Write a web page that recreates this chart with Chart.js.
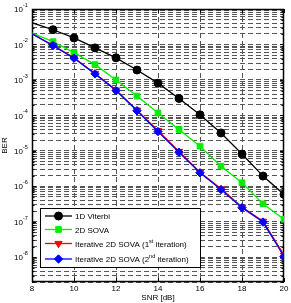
<!DOCTYPE html>
<html>
<head>
<meta charset="utf-8">
<script src="https://cdn.jsdelivr.net/npm/chart.js@4.4.1/dist/chart.umd.min.js"></script>
<style>
  body { margin: 0; background: #fff; }
  canvas { display: block; }
</style>
</head>
<body>
<canvas id="c" width="291" height="303"></canvas>
<script>
// SNR in dB
const snr = [8, 9, 10, 11, 12, 13, 14, 15, 16, 17, 18, 19, 20];
// BER values
const viterbi1d = [4.1e-2, 2.6e-2, 1.53e-2, 8.0e-3, 4.2e-3, 1.9e-3, 8.1e-4, 3.0e-4, 1.04e-4, 3.2e-5, 8.1e-6, 1.94e-6, 5.9e-7];
const sova2d = [2.1e-2, 1.2e-2, 5.9e-3, 2.7e-3, 1.0e-3, 3.5e-4, 1.17e-4, 4.0e-5, 1.35e-5, 3.7e-6, 1.26e-6, 3.2e-7, 1.17e-7];
const iterSova1 = [2.0e-2, 9.5e-3, 4.2e-3, 1.52e-3, 5.2e-4, 1.4e-4, 3.7e-5, 9.6e-6, 2.5e-6, 8.5e-7, 2.6e-7, 1.03e-7, 1.15e-8];
const iterSova2 = [2.0e-2, 9.3e-3, 4.1e-3, 1.48e-3, 5.0e-4, 1.35e-4, 3.5e-5, 9.1e-6, 2.4e-6, 8.1e-7, 2.5e-7, 9.8e-8, 1.05e-8];
const xTicks = [8, 10, 12, 14, 16, 18, 20];
const yDecades = [-1, -2, -3, -4, -5, -6, -7, -8];

const FONT = 'Liberation Sans, Arial, sans-serif';

function pts(arr) {
  return snr.map((x, i) => ({ x: x, y: arr[i] }));
}
// no marker on the first point (it sits on the left edge)
const radius = (r) => (ctx) => ctx.dataIndex === 0 ? 0 : r;

const series = [
  { label: '1D Viterbi', data: viterbi1d, color: '#000000', style: 'circle', r: 4, rot: 0, order: 3 },
  { label: '2D SOVA', data: sova2d, color: '#00ee00', style: 'rect', r: 4, rot: 0, order: 2 },
  { label: 'Iterative 2D SOVA (1', sup: 'st', tail: ' iteration)', data: iterSova1, color: '#ff0000', style: 'triangle', r: 4.2, rot: 180, order: 1 },
  { label: 'Iterative 2D SOVA (2', sup: 'nd', tail: ' iteration)', data: iterSova2, color: '#0000ff', style: 'rectRot', r: 4.2, rot: 0, order: 0 }
];

const datasets = series.map(s => ({
  label: s.label,
  data: pts(s.data),
  borderColor: s.color,
  backgroundColor: s.color,
  borderWidth: 1.3,
  pointStyle: s.style,
  pointRotation: s.rot,
  pointRadius: radius(s.r),
  pointBorderWidth: 1,
  order: s.order,
  tension: 0
}));

const framePlugin = {
  id: 'frame',
  beforeDatasetsDraw(chart) {
    const { ctx, chartArea: a, scales } = chart;
    ctx.save();
    ctx.strokeStyle = '#000';
    ctx.lineWidth = 1.5;
    ctx.strokeRect(a.left + 0.5, a.top + 0.5, a.right - a.left - 1, a.bottom - a.top - 1);
    // inner tick marks, MATLAB style
    ctx.lineWidth = 1;
    ctx.beginPath();
    scales.y.ticks.forEach(t => {
      const y = Math.round(scales.y.getPixelForValue(t.value)) + 0.5;
      const major = Math.abs(Math.log10(t.value) - Math.round(Math.log10(t.value))) < 1e-6;
      const len = major ? 4 : 2.5;
      ctx.moveTo(a.left, y); ctx.lineTo(a.left + len, y);
      ctx.moveTo(a.right, y); ctx.lineTo(a.right - len, y);
    });
    xTicks.forEach(v => {
      const x = Math.round(scales.x.getPixelForValue(v)) + 0.5;
      ctx.moveTo(x, a.bottom); ctx.lineTo(x, a.bottom - 4);
      ctx.moveTo(x, a.top); ctx.lineTo(x, a.top + 4);
    });
    ctx.stroke();
    ctx.restore();
  },
  afterDraw(chart) {
    const { ctx, chartArea: a, scales } = chart;
    ctx.save();
    ctx.fillStyle = '#000';
    // y tick labels with superscript exponents
    yDecades.forEach(k => {
      const y = scales.y.getPixelForValue(Math.pow(10, k));
      ctx.font = '8px ' + FONT;
      ctx.textAlign = 'right';
      ctx.textBaseline = 'middle';
      ctx.fillText('10', 23, y + 1);
      ctx.font = '5.5px ' + FONT;
      ctx.textAlign = 'left';
      ctx.fillText(String(k), 23, y - 3.5);
    });
    // y axis title
    ctx.font = '8px ' + FONT;
    ctx.textAlign = 'center';
    ctx.textBaseline = 'middle';
    ctx.translate(5, (a.top + a.bottom) / 2);
    ctx.rotate(-Math.PI / 2);
    ctx.fillText('BER', 0, 0);
    ctx.restore();

    // legend
    ctx.save();
    const lx = 40, ly = 208, lw = 160, lh = 59;
    ctx.fillStyle = '#fff';
    ctx.fillRect(lx, ly, lw, lh);
    ctx.strokeStyle = '#000';
    ctx.lineWidth = 1;
    ctx.strokeRect(lx + 0.5, ly + 0.5, lw, lh);
    const rows = [216, 229.5, 243.5, 259];
    series.forEach((s, i) => {
      const y = rows[i];
      ctx.strokeStyle = s.color;
      ctx.lineWidth = 1.3;
      ctx.beginPath();
      ctx.moveTo(45, y); ctx.lineTo(72, y);
      ctx.stroke();
      ctx.fillStyle = s.color;
      ctx.strokeStyle = s.color;
      ctx.lineWidth = 1;
      Chart.helpers.drawPoint(ctx, {
        pointStyle: s.style, rotation: s.rot, radius: s.r, borderWidth: 1
      }, 58.5, y);
      ctx.fillStyle = '#000';
      ctx.textAlign = 'left';
      ctx.textBaseline = 'middle';
      ctx.font = '8px ' + FONT;
      let tx = 75;
      ctx.fillText(s.label, tx, y + 1);
      if (s.sup) {
        tx += ctx.measureText(s.label).width;
        ctx.font = '5.5px ' + FONT;
        ctx.fillText(s.sup, tx, y - 2.5);
        tx += ctx.measureText(s.sup).width;
        ctx.font = '8px ' + FONT;
        ctx.fillText(s.tail, tx, y + 1);
      }
    });
    ctx.restore();
  }
};

new Chart(document.getElementById('c'), {
  type: 'line',
  data: { datasets: datasets },
  options: {
    responsive: false,
    animation: false,
    devicePixelRatio: 1,
    layout: { padding: { top: 9, right: 7, left: 0, bottom: 0 } },
    plugins: { legend: { display: false }, tooltip: { enabled: false } },
    scales: {
      x: {
        type: 'linear',
        min: 8,
        max: 20,
        afterBuildTicks: (scale) => { scale.ticks = xTicks.map(v => ({ value: v })); },
        afterFit: (scale) => { scale.height = 21; },
        ticks: {
          color: '#000',
          font: { family: FONT, size: 8 },
          padding: 2,
          maxRotation: 0
        },
        grid: {
          drawTicks: false,
          color: (c) => (c.tick && (c.tick.value === 8 || c.tick.value === 20)) ? 'rgba(0,0,0,0)' : '#555',
          lineWidth: 1
        },
        border: { display: false, dash: [5, 3] },
        title: {
          display: true,
          text: 'SNR [dB]',
          color: '#000',
          font: { family: FONT, size: 8 },
          padding: { top: 0, bottom: 0 }
        }
      },
      y: {
        type: 'logarithmic',
        min: 2e-9,
        max: 1e-1,
        afterBuildTicks: (scale) => {
          const t = [];
          for (let e = -9; e <= -2; e++) {
            for (let m = 1; m <= 9; m++) {
              const v = m * Math.pow(10, e);
              if (v >= 2e-9 && v <= 1e-1) t.push({ value: v });
            }
          }
          t.push({ value: 1e-1 });
          scale.ticks = t;
        },
        afterFit: (scale) => { scale.width = 32; },
        ticks: { display: false },
        grid: {
          drawTicks: false,
          color: '#555',
          lineWidth: 1
        },
        border: { display: false, dash: [5, 3] }
      }
    }
  },
  plugins: [framePlugin]
});
</script>
</body>
</html>
